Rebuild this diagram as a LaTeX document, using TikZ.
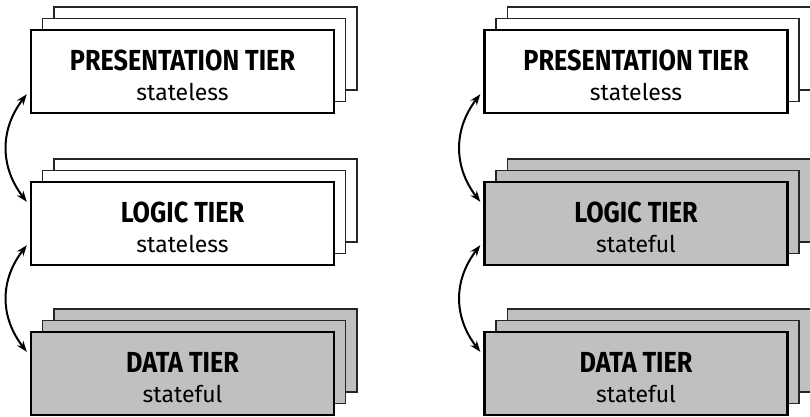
\documentclass[tikz,border=0pt]{standalone}
\usepackage{fontspec}
\setmainfont{Fira Sans}
\newfontfamily\headfont{Fira Sans}[FakeStretch=0.87]
\usetikzlibrary{arrows.meta,calc}

\definecolor{stategray}{RGB}{192,192,192}
\tikzset{
  layer/.style={draw=black!85, line width=1.3pt, minimum width=303pt, minimum height=83pt, inner sep=0pt},
  front/.style={draw=black, line width=2.4pt, minimum width=303pt, minimum height=83pt, inner sep=0pt},
  tiertext/.style={align=center, inner sep=0pt, font=\fontsize{23}{30}\selectfont},
  nostate/.style={fill=white},
  withstate/.style={fill=stategray},
  link/.style={{Stealth[length=11pt,width=8pt]}-{Stealth[length=11pt,width=8pt]}, line width=2pt}
}

% one tier: two copies stacked behind the front box, and its label
\newcommand\tierstack[5]{%
  \node[layer,#3] (#1-back) at ($(#2)+(23,-23)$) {};
  \node[layer,#3] (#1-mid) at ($(#2)+(11.5,-11.5)$) {};
  \node[front,#3] (#1) at (#2) {};
  \node[tiertext] (#1-text) at ($(#1.center)+(0,4)$) {{\headfont\bfseries\fontsize{29}{30}\selectfont #4}\\#5};
}

\begin{document}
\begin{tikzpicture}[x=1pt,y=-1pt]
\useasboundingbox (0,0) rectangle (810,416);
\fill[white] (0,0) rectangle (810,416);

% left column: stateless logic tier
\tierstack{lp}{182.5,71.5}{nostate}{PRESENTATION TIER}{stateless}
\tierstack{ll}{182.5,223.5}{nostate}{LOGIC TIER}{stateless}
\tierstack{ld}{182.5,373.5}{withstate}{DATA TIER}{stateful}

% right column: stateful logic tier
\tierstack{rp}{636,71.5}{nostate}{PRESENTATION TIER}{stateless}
\tierstack{rl}{636,223.5}{withstate}{LOGIC TIER}{stateful}
\tierstack{rd}{636,373.5}{withstate}{DATA TIER}{stateful}

% arrow end points beside the left edges of the boxes
\foreach \c in {l,r}{
  \coordinate (\c p-out) at ($(\c p.south west)+(-3,-20)$);
  \coordinate (\c l-in) at ($(\c l.north west)+(-3,21)$);
  \coordinate (\c l-out) at ($(\c l.south west)+(-3,-21)$);
  \coordinate (\c d-in) at ($(\c d.north west)+(-3,21)$);
  \draw[link] (\c p-out) .. controls +(-27,35) and +(-27,-35) .. (\c l-in);
  \draw[link] (\c l-out) .. controls +(-27,35) and +(-27,-35) .. (\c d-in);
}
\end{tikzpicture}
\end{document}
